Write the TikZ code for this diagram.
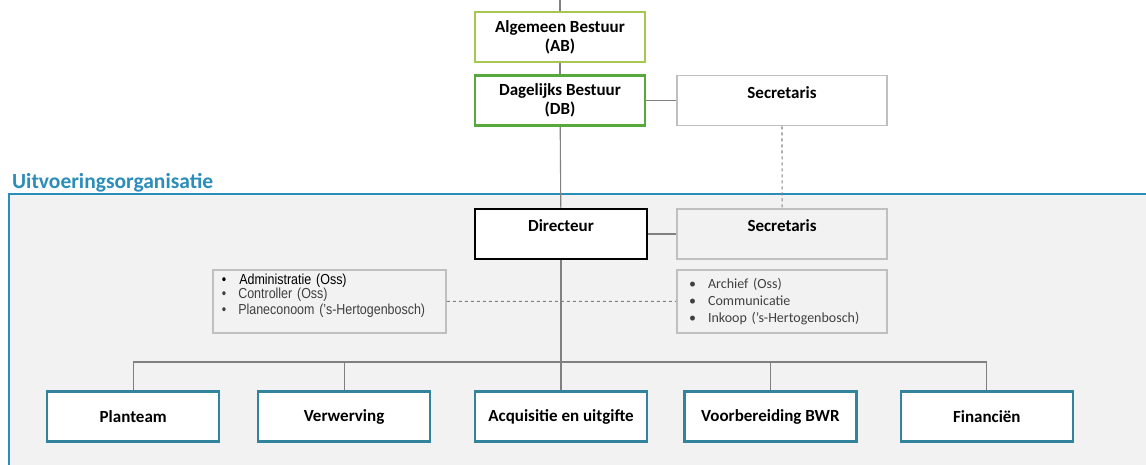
\documentclass[tikz,border=0pt]{standalone}
\usepackage{fontspec}
\setmainfont{Carlito}
\newfontfamily\smalarial[FakeStretch=0.86]{Liberation Sans}
\usepackage{xcolor}
\usetikzlibrary{positioning}

\definecolor{kopblauw}{HTML}{2B8DBA}
\definecolor{teamblauw}{HTML}{31849B}
\definecolor{abgroen}{HTML}{A6C84E}
\definecolor{dbgroen}{HTML}{57A93B}
\definecolor{randgrijs}{HTML}{BFBFBF}
\definecolor{lijngrijs}{HTML}{808080}
\definecolor{vlakgrijs}{HTML}{F2F2F2}
\definecolor{tekstgrijs}{HTML}{404040}

\begin{document}
\begin{tikzpicture}[
        x=1pt, y=-1pt,
        box/.style={draw, fill=white, minimum height=50pt, align=center,
            inner sep=2pt, font=\fontsize{17}{19}\selectfont\bfseries},
        bestuur/.style={box, minimum width=170pt, line width=2.2pt},
        grijs/.style={box, fill=none, draw=randgrijs, minimum width=210pt,
            line width=1.8pt, text depth=16pt},
        team/.style={box, draw=teamblauw, minimum width=172pt, line width=2.4pt},
        lijst/.style={draw=randgrijs, line width=1.8pt, minimum height=63pt,
            align=left, inner ysep=3pt, text=tekstgrijs},
        lijn/.style={draw=lijngrijs, line width=1.1pt},
        stippel/.style={lijn, dashed}
    ]
        \useasboundingbox (0,0) rectangle (1146,464);
        \fill[white] (0,0) rectangle (1146,464);
        \clip (0,0) rectangle (1146,464);

        % uitvoeringsorganisatie
        \filldraw[fill=vlakgrijs, draw=kopblauw, line width=2.6pt] (9,194) rectangle (1170,490);
        \node[anchor=base west, inner sep=0pt, text=kopblauw,
            font=\fontsize{21.5}{24}\selectfont\bfseries] (kop) at (12,188.5) {Uitvoeringsorganisatie};

        % bestuur
        \node[bestuur, draw=abgroen] (ab) at (560,37) {Algemeen Bestuur\\(AB)};
        \node[bestuur, draw=dbgroen] (db) at (560,100.5) {Dagelijks Bestuur\\(DB)};
        \node[grijs, right=30pt of db] (secr) {Secretaris};

        \node[box, minimum width=172pt, line width=2.4pt, text depth=16pt] (dir) at (561,234) {Directeur};
        \node[grijs, right=28pt of dir] (secrb) {Secretaris};

        \node[lijst, anchor=north west, minimum width=233pt, inner xsep=9pt, text width=215pt,
            text depth=45pt, font=\smalarial\fontsize{14.5}{13.5}\selectfont] (lijstl) at (212,269)
            {\textcolor{black}{\textbullet\hspace{13pt}Administratie (Oss)}\\
             \textbullet\hspace{12pt}Controller (Oss)\\[1.5pt]
             \textbullet\hspace{12pt}Planeconoom (’s-Hertogenbosch)};
        \node[lijst, below=9pt of secrb, minimum width=210pt, inner xsep=12pt, text width=186pt,
            font=\fontsize{14}{17}\selectfont] (lijstr)
            {\textbullet\hspace{12pt}Archief (Oss)\\
             \textbullet\hspace{12pt}Communicatie\\
             \textbullet\hspace{12pt}Inkoop (’s-Hertogenbosch)};

        % teams
        \node[team] (acquisitie) at (561,416.5) {Acquisitie en uitgifte};
        \node[team, left=42.5pt of acquisitie] (verwerving) {Verwerving};
        \node[team, left=36.5pt of verwerving] (planteam) {Planteam};
        \node[team, right=35pt of acquisitie] (voorbereiding) {Voorbereiding BWR};
        \node[team, right=42pt of voorbereiding] (financien) {Financiën};

        % lijnen
        \coordinate (boven) at (560,0);
        \coordinate (bus) at (561,362);
        \draw[lijn] (boven) -- (ab);
        \draw[lijn] (ab) -- (db);
        \draw[lijn] (db) -- (dir);
        \draw[lijn] (db) -- (secr);
        \draw[lijn] (dir) -- (secrb);
        \draw[stippel] (secr) -- (secrb);
        \draw[stippel] (lijstl) -- (lijstr);
        \draw[lijn] (dir) -- (acquisitie);
        \draw[lijn] (planteam.north) |- (bus) -| (financien.north);
        \draw[lijn] (verwerving.north) -- (verwerving.north |- bus);
        \draw[lijn] (voorbereiding.north) -- (voorbereiding.north |- bus);
    \end{tikzpicture}
\end{document}
